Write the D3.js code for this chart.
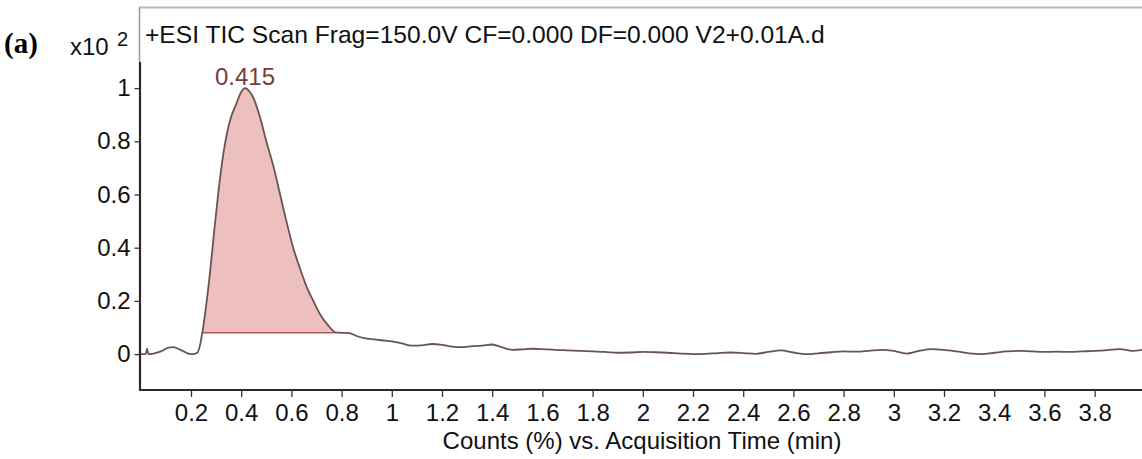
<!DOCTYPE html>
<html>
<head>
<meta charset="utf-8">
<script src="https://cdn.jsdelivr.net/npm/d3@7"></script>
<style>
  html, body { margin: 0; padding: 0; background: #fff; }
  svg { display: block; }
  text { font-family: "Liberation Sans", Arial, sans-serif; }
</style>
</head>
<body>
<svg id="chart" width="1142" height="459"></svg>
<script>
// Acquisition time (min) and TIC counts (x10^2)
const times = [0.00,0.02,0.025,0.03,0.05,0.08,0.11,0.13,0.16,0.19,0.21,0.225,0.235,0.245,0.26,0.275,0.29,0.308,0.33,0.356,0.38,0.40,0.415,0.435,0.45,0.475,0.50,0.53,0.555,0.58,0.607,0.635,0.662,0.69,0.714,0.745,0.775,0.80,0.83,0.86,0.89,0.93,0.96,1.00,1.04,1.08,1.12,1.16,1.20,1.24,1.28,1.32,1.36,1.40,1.44,1.48,1.52,1.56,1.60,1.65,1.70,1.75,1.80,1.85,1.90,1.95,2.00,2.05,2.10,2.15,2.20,2.25,2.30,2.35,2.40,2.45,2.50,2.55,2.60,2.65,2.70,2.75,2.80,2.85,2.90,2.95,3.00,3.05,3.10,3.15,3.20,3.25,3.30,3.35,3.40,3.45,3.50,3.55,3.60,3.65,3.70,3.75,3.80,3.85,3.90,3.95,3.99];
const counts = [0.000,0.000,0.020,0.000,0.002,0.010,0.024,0.026,0.015,0.002,0.000,0.005,0.030,0.080,0.180,0.300,0.440,0.600,0.760,0.880,0.940,0.985,1.000,0.985,0.960,0.890,0.800,0.700,0.600,0.500,0.400,0.320,0.250,0.195,0.150,0.110,0.082,0.080,0.079,0.068,0.060,0.055,0.052,0.048,0.040,0.032,0.033,0.038,0.035,0.028,0.026,0.030,0.032,0.036,0.025,0.016,0.018,0.020,0.019,0.016,0.014,0.012,0.010,0.008,0.005,0.006,0.008,0.007,0.005,0.002,0.000,0.001,0.004,0.006,0.004,0.001,0.008,0.014,0.006,0.000,0.003,0.007,0.010,0.009,0.012,0.016,0.012,0.002,0.012,0.019,0.016,0.010,0.003,0.000,0.005,0.010,0.012,0.010,0.008,0.009,0.008,0.010,0.012,0.015,0.019,0.012,0.016];

// Integrated peak: apex time, start/end of integration, baseline level
const peakApex = 0.415;
const peakStart = 0.245;
const peakEnd = 0.775;
const peakBaseline = 0.08;

const xTicks = [0.2,0.4,0.6,0.8,1,1.2,1.4,1.6,1.8,2,2.2,2.4,2.6,2.8,3,3.2,3.4,3.6,3.8];
const yTicks = [0,0.2,0.4,0.6,0.8,1];

const titleText = "+ESI TIC Scan Frag=150.0V CF=0.000 DF=0.000 V2+0.01A.d";
const xTitle = "Counts (%) vs. Acquisition Time (min)";

const svg = d3.select("#chart");
const data = times.map((t, i) => ({ t, v: counts[i] }));

const x = d3.scaleLinear().domain([0, 4]).range([140.8, 1144.8]);
const y = d3.scaleLinear().domain([-0.135, 1.1]).range([390, 61.5]);

// light frame around the plot area
svg.append("line").attr("x1", 139.5).attr("x2", 1142).attr("y1", 7.5).attr("y2", 7.5)
  .attr("stroke", "#b8b8b8").attr("stroke-width", 2);
svg.append("line").attr("x1", 139.5).attr("x2", 139.5).attr("y1", 7).attr("y2", 62)
  .attr("stroke", "#9a9a9a").attr("stroke-width", 1.5);

// integrated peak area
const peakData = data.filter(d => d.t >= peakStart && d.t <= peakEnd);
svg.append("path")
  .datum(peakData)
  .attr("d", d3.area().x(d => x(d.t)).y0(y(peakBaseline)).y1(d => y(d.v)).curve(d3.curveMonotoneX))
  .attr("fill", "#edc0bf");
svg.append("line")
  .attr("x1", x(peakStart)).attr("x2", x(peakEnd))
  .attr("y1", y(peakBaseline)).attr("y2", y(peakBaseline))
  .attr("stroke", "#b05a5a").attr("stroke-width", 1.5);

// chromatogram trace
svg.append("path")
  .datum(data)
  .attr("d", d3.line().x(d => x(d.t)).y(d => y(d.v)).curve(d3.curveMonotoneX))
  .attr("fill", "none")
  .attr("stroke", "#6a5452")
  .attr("stroke-width", 1.8);

// axes
const xAxis = svg.append("g").attr("transform", "translate(0,390)")
  .call(d3.axisBottom(x).tickValues(xTicks).tickSize(7).tickSizeOuter(0).tickPadding(7).tickFormat(d3.format("")));
const yAxis = svg.append("g").attr("transform", "translate(139.5,0)")
  .call(d3.axisLeft(y).tickValues(yTicks).tickSize(5).tickSizeOuter(0).tickPadding(4).tickFormat(d3.format("")));

[xAxis, yAxis].forEach(g => {
  g.select(".domain").attr("stroke", "#2a2a2a").attr("stroke-width", 2.2);
  g.selectAll(".tick line").attr("stroke", "#333").attr("stroke-width", 1.3);
  g.selectAll(".tick text").attr("fill", "#111").style("font-size", "24px")
    .style("font-family", "'Liberation Sans', Arial, sans-serif");
});
xAxis.select(".domain").attr("d", "M139,0H1142");

// apex label
svg.append("text")
  .attr("x", x(peakApex)).attr("y", y(1) - 3)
  .attr("text-anchor", "middle")
  .attr("fill", "#7a3a3a")
  .style("font-size", "24px")
  .text(peakApex.toFixed(3));

// title
svg.append("text").attr("x", 145).attr("y", 43)
  .attr("fill", "#111").style("font-size", "24.6px").text(titleText);

// y multiplier
svg.append("text").attr("x", 70).attr("y", 55).attr("fill", "#111")
  .style("font-size", "24px").text("x10");
svg.append("text").attr("x", 117).attr("y", 46).attr("fill", "#111")
  .style("font-size", "20px").text("2");

// panel label
svg.append("text").attr("x", 4).attr("y", 53).attr("fill", "#000")
  .style("font-family", "'Liberation Serif', 'Times New Roman', serif")
  .style("font-weight", "bold").style("font-size", "29px").text("(a)");

// x-axis title
svg.append("text").attr("x", 642).attr("y", 449).attr("text-anchor", "middle")
  .attr("fill", "#111").style("font-size", "24px").text(xTitle);
</script>
</body>
</html>
